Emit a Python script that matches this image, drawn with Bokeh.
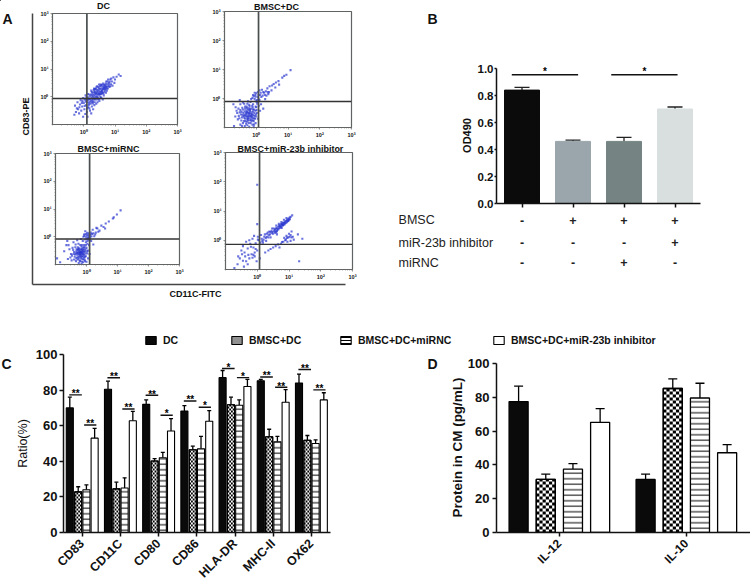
from bokeh.plotting import figure
from bokeh.embed import file_html
from bokeh.resources import INLINE
from bokeh.layouts import column
from bokeh.models import Range1d, Span, Whisker, ColumnDataSource, FixedTicker, Legend, LegendItem, CanvasTexture
from bokeh.core.properties import value
import math

FONT = "Liberation Sans"

# Panel A: hand-read scatter clouds as (log10 x, log10 y)
dc_points = [(0.45,0.15),(0.5,0.2),(0.4,0.1),(0.55,0.3),(0.6,0.25),(0.35,0.05),(0.3,0.0),(0.65,0.35),(0.7,0.4),(0.75,0.45),
(0.5,0.05),(0.42,0.24),(0.58,0.12),(0.25,-0.05),(0.2,-0.1),(0.15,-0.02),(0.28,0.12),(0.36,0.2),(0.62,0.48),(0.68,0.3),
(0.8,0.5),(0.72,0.55),(0.85,0.62),(0.9,0.55),(0.95,0.7),(1.05,0.72),(1.12,0.8),(0.78,0.62),(0.66,0.18),(0.52,0.38),
(0.46,-0.03),(0.38,-0.1),(0.3,-0.18),(0.22,-0.25),(0.12,-0.2),(0.05,-0.12),(0.08,-0.3),(0.0,-0.22),(-0.05,-0.35),(-0.12,-0.28),
(-0.18,-0.45),(-0.25,-0.55),(-0.3,-0.65),(-0.08,-0.5),(0.02,-0.45),(0.1,-0.55),(0.18,-0.42),(0.26,-0.35),(0.34,-0.3),(0.44,-0.2),
(0.56,-0.05),(0.64,0.05),(0.74,0.22),(0.82,0.35),(0.98,0.5),(0.24,0.22),(0.14,0.1),(0.06,0.05),(-0.02,-0.05),(-0.1,-0.12),
(-0.2,-0.2),(-0.28,-0.32),(0.48,0.32),(0.54,0.44),(0.6,0.36),(0.33,0.3),(0.41,0.02),(0.47,0.1),(0.53,0.16),(0.59,0.2),
(0.37,-0.02),(0.31,0.07),(0.27,0.04),(0.21,0.02),(0.17,-0.08),(0.11,-0.1),(0.63,0.28),(0.69,0.37),(0.57,0.22),(0.51,0.28),
(0.43,0.18),(0.39,0.14),(0.33,0.16),(0.71,0.15),(0.77,0.3),(0.87,0.45),(0.92,0.4),(0.61,-0.1),(0.5,-0.15),(0.4,-0.25),
(0.2,-0.5),(0.3,-0.45),(0.14,-0.38),(0.05,-0.62),(0.12,-0.72),(-0.02,-0.72),(-0.15,-0.6),(0.24,-0.6),(1.0,0.62),(1.18,0.75),
(0.67,0.43),(0.74,0.36),(0.81,0.44),(0.55,0.09),(0.49,-0.08),(0.35,-0.2),(0.16,-0.3),(0.07,-0.18),(-0.04,-0.15),(0.28,-0.12),
(0.44,0.07),(0.38,0.28),(0.46,0.36),(0.56,0.4),(0.64,0.42),(0.7,0.48),(0.76,0.55),(0.83,0.54),(0.88,0.66),(0.6,0.14),
(0.54,-0.01),(0.44,-0.1),(0.34,-0.1),(0.29,-0.24),(0.19,-0.18),(0.13,-0.12),(0.09,-0.02),(0.23,0.08),(0.32,0.24),(0.4,0.33),
(0.5,0.12),(0.56,0.18),(0.63,0.12),(0.68,0.24),(0.73,0.29),(0.79,0.39),(0.85,0.38),(0.47,0.24),(0.36,0.12),(0.26,0.17),
(0.18,0.07),(0.03,-0.07),(-0.06,-0.22),(-0.14,-0.38),(-0.22,-0.42),(0.03,-0.33),(0.17,-0.24),(0.25,-0.2),(0.32,-0.06),(0.42,-0.02),
(0.52,0.1),(0.61,0.3),(0.66,0.31),(0.72,0.33),(0.58,0.43),(0.49,0.44),(0.42,0.38),(0.35,0.28),(0.24,-0.14),(0.11,-0.42)]

bmsc_dc_points = [(-0.25,-0.6),(-0.2,-0.5),(-0.3,-0.55),(-0.15,-0.65),(-0.35,-0.7),(-0.1,-0.45),(-0.25,-0.4),(-0.4,-0.5),(-0.2,-0.75),(-0.05,-0.6),
(-0.3,-0.8),(-0.45,-0.65),(-0.15,-0.35),(-0.35,-0.35),(-0.08,-0.78),(-0.5,-0.4),(-0.55,-0.6),(-0.12,-0.9),(-0.28,-0.92),(-0.42,-0.85),
(-0.6,-0.5),(-0.65,-0.3),(-0.5,-0.2),(-0.38,-0.18),(-0.22,-0.22),(-0.1,-0.2),(0.0,-0.3),(0.02,-0.5),(0.05,-0.7),(-0.02,-0.85),
(0.0,-0.1),(0.05,0.05),(-0.05,-0.02),(0.1,-0.05),(0.12,0.12),(-0.08,0.08),(0.0,0.18),(0.05,0.22),(0.2,0.1),(0.25,0.2),
(0.3,0.25),(0.18,0.3),(0.35,0.35),(0.42,0.42),(0.5,0.45),(0.55,0.5),(0.62,0.55),(0.7,0.6),(0.82,0.72),(0.88,0.78),
(0.95,0.82),(1.08,0.98),(0.28,-0.02),(0.15,-0.2),(0.22,-0.35),(0.08,-0.25),(-0.18,-0.12),(-0.3,-0.28),(-0.44,-0.32),(-0.58,-0.72),
(-0.7,-0.95),(-0.62,-0.42),(-0.72,-0.2),(-0.22,-0.68),(-0.17,-0.58),(-0.27,-0.48),(-0.33,-0.62),(-0.12,-0.55),(-0.07,-0.38),(-0.37,-0.44),
(-0.24,-0.34),(-0.14,-0.48),(-0.19,-0.41),(-0.31,-0.42),(-0.4,-0.6),(-0.48,-0.55),(-0.1,-0.68),(-0.03,-0.42),(0.03,-0.18),(-0.28,-0.7),
(-0.18,-0.85),(-0.36,-0.95),(-0.5,-0.9),(0.0,-0.62),(0.12,-0.42),(0.38,0.15),(0.48,0.28),(0.6,0.38),(0.1,0.28),(-0.02,0.06),
(-0.12,0.02),(0.02,-0.05),(0.07,0.12),(-0.05,0.2),(-0.16,-0.02),(-0.26,-0.1),(-0.52,-0.05),(-0.66,-0.62),(-0.22,-0.98),(-0.08,-0.98),
(0.16,0.05),(0.22,0.22),(0.32,0.1),(0.72,0.48),(0.4,0.22),(-0.04,-0.7),(-0.34,-0.78),(-0.46,-0.46),(-0.21,-0.27),(-0.11,-0.3),
(-0.29,-0.62),(-0.23,-0.54),(-0.32,-0.5),(-0.16,-0.72),(-0.26,-0.76),(-0.38,-0.66),(-0.43,-0.56),(-0.13,-0.62),(-0.06,-0.5),(-0.09,-0.58),
(-0.2,-0.44),(-0.29,-0.34),(-0.35,-0.28),(-0.42,-0.38),(-0.52,-0.48),(-0.47,-0.76),(-0.39,-0.78),(-0.32,-0.87),(-0.24,-0.84),(-0.15,-0.78),
(-0.06,-0.68),(0.01,-0.4),(-0.02,-0.28),(-0.13,-0.25),(-0.2,-0.36),(-0.28,-0.18),(-0.42,-0.14),(-0.56,-0.35),(-0.53,-0.68),(-0.26,-0.66),
(-0.18,-0.62),(-0.34,-0.56),(-0.24,-0.5),(-0.15,-0.54),(-0.1,-0.38),(-0.3,-0.47),(-0.37,-0.58),(-0.21,-0.6),(-0.27,-0.72),(-0.11,-0.75),
(0.03,-0.12),(-0.03,0.12),(0.07,-0.02),(-0.1,0.12),(0.14,0.2),(0.27,0.12),(0.36,0.22),(-0.01,-0.55),(-0.07,-0.9),(-0.45,-0.95)]

bmsc_mirnc_points = [(-0.2,-0.58),(-0.15,-0.5),(-0.25,-0.5),(-0.1,-0.62),(-0.3,-0.65),(-0.12,-0.42),(-0.22,-0.7),(-0.05,-0.52),(-0.32,-0.45),(-0.4,-0.55),
(-0.18,-0.78),(-0.28,-0.82),(-0.08,-0.75),(-0.38,-0.72),(-0.15,-0.9),(-0.05,-0.88),(-0.25,-0.95),(-0.45,-0.4),(-0.35,-0.28),(-0.2,-0.3),
(-0.08,-0.3),(0.0,-0.4),(0.02,-0.6),(0.05,-0.78),(-0.5,-0.62),(-0.55,-0.45),(-0.6,-0.8),(-0.48,-0.85),(-0.65,-0.3),(-0.72,-0.52),
(-0.85,-0.92),(-0.95,-0.78),(-0.62,-0.15),(-0.42,-0.2),(-0.3,-0.12),(-0.12,-0.15),(-0.02,-0.2),(0.05,-0.05),(0.0,0.05),(-0.08,0.08),
(0.08,0.12),(-0.04,0.2),(0.12,-0.02),(0.18,0.1),(0.25,0.02),(0.3,0.15),(0.2,0.25),(0.35,0.3),(0.42,0.22),(0.48,0.4),
(0.55,0.35),(0.62,0.48),(0.72,0.55),(0.85,0.66),(0.88,0.7),(0.98,0.8),(1.1,0.95),(0.15,-0.15),(0.22,-0.28),(0.08,-0.3),
(-0.17,-0.54),(-0.13,-0.6),(-0.23,-0.6),(-0.27,-0.56),(-0.07,-0.45),(-0.18,-0.46),(-0.12,-0.7),(-0.2,-0.65),(-0.28,-0.38),(-0.35,-0.6),
(-0.1,-0.82),(-0.02,-0.7),(-0.16,-0.36),(-0.24,-0.42),(-0.04,-0.6),(-0.3,-0.75),(-0.42,-0.62),(-0.22,-0.86),(-0.14,-0.72),(-0.06,-0.38),
(0.02,-0.08),(0.06,0.02),(-0.01,-0.02),(0.1,0.06),(-0.1,0.0),(-0.18,-0.08),(0.14,0.15),(0.28,0.08),(0.38,0.18),(0.02,0.14),
(-0.34,-0.88),(-0.52,-0.75),(-0.26,-0.25),(0.0,-0.9),(0.6,0.3),(0.05,-0.5),(0.1,-0.62),(-0.16,-0.98),(-0.58,-0.3),(0.32,0.32),
(-0.19,-0.62),(-0.14,-0.56),(-0.24,-0.64),(-0.09,-0.55),(-0.16,-0.44),(-0.21,-0.52),(-0.11,-0.48),(-0.26,-0.72),(-0.17,-0.68),(-0.07,-0.66),
(-0.03,-0.46),(-0.13,-0.8),(-0.2,-0.88),(-0.28,-0.6),(-0.33,-0.52),(-0.37,-0.64),(-0.23,-0.46),(-0.29,-0.48),(-0.15,-0.3),(-0.09,-0.38),
(-0.02,-0.3),(0.03,-0.25),(-0.06,-0.82),(-0.11,-0.92),(-0.19,-0.72),(-0.31,-0.58),(-0.43,-0.48),(-0.47,-0.68),(-0.4,-0.82),(-0.33,-0.78),
(-0.25,-0.78),(-0.18,-0.55),(-0.12,-0.64),(-0.22,-0.56),(-0.16,-0.6),(-0.1,-0.52),(-0.05,-0.72),(0.01,-0.52),(-0.27,-0.44),(-0.36,-0.38),
(0.04,0.07),(-0.03,0.1),(0.08,-0.04),(0.12,0.08),(-0.07,0.03),(0.16,0.02),(0.22,0.12),(0.03,-0.15),(0.09,-0.12),(-0.04,-0.1)]

bmsc_inhibitor_points = [(0.1,-0.08),(0.2,0.02),(0.3,0.12),(0.4,0.2),(0.48,0.28),(0.55,0.35),(0.6,0.42),(0.66,0.46),(0.72,0.5),(0.78,0.56),
(0.84,0.6),(0.9,0.66),(0.96,0.72),(1.02,0.78),(1.1,0.85),(0.5,0.22),(0.58,0.3),(0.64,0.36),(0.7,0.42),(0.76,0.48),
(0.82,0.52),(0.88,0.58),(0.94,0.62),(1.0,0.7),(0.45,0.32),(0.52,0.4),(0.6,0.5),(0.68,0.56),(0.76,0.62),(0.84,0.7),
(0.92,0.76),(0.35,0.1),(0.42,0.1),(0.28,-0.02),(0.22,0.12),(0.14,0.05),(0.05,0.0),(-0.05,-0.1),(-0.15,0.05),(-0.25,0.0),
(-0.35,-0.05),(-0.1,0.15),(0.02,0.12),(-0.45,-0.2),(-0.3,-0.28),(-0.2,-0.22),(-0.12,-0.25),(-0.05,-0.3),(0.0,-0.35),(-0.08,-0.42),
(-0.18,-0.48),(-0.28,-0.5),(-0.38,-0.55),(-0.48,-0.48),(-0.55,-0.62),(-0.45,-0.7),(-0.35,-0.72),(-0.25,-0.62),(-0.15,-0.6),(-0.3,-0.82),
(-0.42,-0.9),(-0.62,-0.82),(-0.72,-0.95),(-0.5,-0.35),(0.08,-0.62),(-0.02,-0.72),(0.02,0.02),(0.42,-0.3),(0.5,-0.25),(0.58,-0.2),
(0.66,-0.14),(0.75,-0.12),(0.82,-0.05),(0.9,0.02),(0.98,0.1),(1.05,0.18),(1.12,0.12),(0.92,0.15),(0.85,0.08),(0.95,-0.05),
(1.05,-0.02),(1.15,0.02),(1.28,0.2),(1.0,0.22),(0.7,-0.25),(0.35,-0.35),(0.25,-0.42),(1.42,0.05),(0.62,0.2),(0.38,0.3),
(0.3,0.22),(0.18,-0.08),(0.56,0.26),(0.62,0.32),(0.74,0.44),(0.8,0.5),(0.86,0.54),(0.98,0.66),(0.0,1.9),(0.0,0.55),
(1.32,-0.72),(1.08,0.3),(-0.22,-0.12),(-0.08,-0.55),(-0.4,-0.42),(0.24,0.2),(0.33,0.26),(0.47,0.4),(0.12,0.18),(-0.6,-0.55),
(0.71,0.47),(0.79,0.52),(0.83,0.56),(0.87,0.63),(0.93,0.69),(0.99,0.74),(1.05,0.8),(0.69,0.5),(0.75,0.55),(0.81,0.6),
(0.63,0.4),(0.57,0.38),(0.53,0.31),(0.46,0.24),(0.41,0.28),(0.36,0.18),(0.27,0.08),(0.16,-0.02),(0.9,0.6),(0.96,0.66),
(1.03,0.72),(0.77,0.42),(0.67,0.38),(0.6,0.27),(1.08,0.1),(1.02,0.12),(0.94,0.08),(0.88,0.0),(0.78,-0.06),(-0.12,-0.5)]

# Panel B
b_values = [0.84, 0.46, 0.46, 0.70]
b_upper = [0.86, 0.47, 0.49, 0.715]
b_colors = ["#0b0b0b", "#9aa6ac", "#758482", "#d8dfde"]
b_rows = ["BMSC", "miR-23b inhibitor", "miRNC"]
b_signs = [["-", "+", "+", "+"], ["-", "-", "-", "+"], ["-", "-", "+", "-"]]

# Panel C
c_markers = ["CD83", "CD11C", "CD80", "CD86", "HLA-DR", "MHC-II", "OX62"]
c_dc = [70, 80.5, 72, 68.3, 87, 85.2, 84]
c_dc_err = [76, 85, 74.5, 71.3, 91, 86, 89]
c_bmsc = [22.8, 24.5, 40.2, 46.5, 71.8, 53.8, 51.8]
c_bmsc_err = [25.7, 28.3, 41.5, 48.5, 76, 58, 54.5]
c_mirnc = [24, 25, 42, 47, 71.5, 51, 50]
c_mirnc_err = [26.7, 30.7, 45, 54, 74.5, 54, 52]
c_inh = [53, 62.8, 57, 62.5, 82, 73.2, 74.5]
c_inh_err = [58.5, 68, 64, 68.5, 86, 80.3, 78.5]
c_sig1_y = [77.3, 86.9, 77.1, 73.9, 92.1, 87.4, 91.6]
c_sig1 = ["**", "**", "**", "**", "*", "**", "**"]
c_sig2_y = [60.4, 69.4, 65.9, 70.4, 87, 81.6, 80.1]
c_sig2 = ["**", "**", "*", "*", "*", "**", "**"]

# Panel D
d_cytokines = ["IL-12", "IL-10"]
d_dc = [77.5, 31.4]
d_dc_err = [86.6, 34.6]
d_bmsc = [31.4, 85.2]
d_bmsc_err = [34.6, 90.9]
d_mirnc = [37.5, 79.6]
d_mirnc_err = [40.7, 88.3]
d_inh = [65.2, 47.2]
d_inh_err = [73.3, 52]

SERIES = ["DC", "BMSC+DC", "BMSC+DC+miRNC", "BMSC+DC+miR-23b inhibitor"]

CHECK = CanvasTexture(repetition="repeat", code="""
    const h = scale / 2;
    ctx.fillStyle = color;
    ctx.fillRect(0, 0, h, h);
    ctx.fillRect(h, h, h, h);
""")


def legend_styles():
    return [dict(fill_color="#0a0a0a"),
            dict(fill_color="white", hatch_pattern=value("chk"), hatch_extra={"chk": CHECK}, hatch_color="black", hatch_scale=4),
            dict(fill_color="white", hatch_pattern="horizontal_line", hatch_color="black", hatch_scale=3, hatch_weight=1),
            dict(fill_color="white")]


def bar_styles(line_scale):
    return [dict(fill_color="#0a0a0a"),
            dict(fill_color="white"),
            dict(fill_color="white", hatch_pattern="horizontal_line", hatch_color="black", hatch_scale=line_scale, hatch_weight=1),
            dict(fill_color="white")]


def frame(left, top, fw, fh, x_range, y_range, ml=70, mr=14, mt=20, mb=90, **kw):
    p = figure(width=fw + ml + mr, height=fh + mt + mb, x_range=x_range, y_range=y_range,
               min_border_left=ml, min_border_right=mr, min_border_top=mt, min_border_bottom=mb,
               output_backend="svg", toolbar_location=None, background_fill_alpha=0, border_fill_alpha=0,
               frame_align=False,
               styles={"position": "absolute", "left": f"{left-ml}px", "top": f"{top-mt}px"}, **kw)
    p.grid.visible = False
    p.outline_line_color = None
    return p


def style_axis(ax, size, lw=1.5, tick=4, standoff=2):
    ax.major_label_text_font = FONT
    ax.major_label_text_font_style = "bold"
    ax.major_label_text_font_size = size
    ax.major_label_text_color = "#111111"
    ax.axis_line_color = "#111111"
    ax.major_tick_line_color = "#111111"
    ax.axis_line_width = lw
    ax.major_tick_line_width = lw
    ax.major_tick_in = 0
    ax.major_tick_out = tick
    ax.minor_tick_line_color = None
    ax.major_label_standoff = standoff


DECADES = {1: "10\u2070", 10: "10\u00b9", 100: "10\u00b2", 1000: "10\u00b3"}
DECADE_TICKS = [1, 10, 100, 1000]
MINOR_TICKS = [0.1, 0.2, 0.3, 0.4, 0.5, 0.6, 0.7, 0.8, 0.9, 2, 3, 4, 5, 6, 7, 8, 9,
               20, 30, 40, 50, 60, 70, 80, 90, 200, 300, 400, 500, 600, 700, 800, 900]


def flow(left, top, fw, fh, pts, vx, vy):
    p = frame(left, top, fw, fh, Range1d(0.1, 1000), Range1d(0.1, 1000), ml=50, mr=10, mt=8, mb=40,
              x_axis_type="log", y_axis_type="log")
    p.outline_line_color = "#5f6363"
    p.outline_line_width = 1.2
    xs = [10 ** a for a, _ in pts]
    ys = [10 ** b for _, b in pts]
    p.scatter(xs, ys, marker="square", size=2.1, fill_color="#2a36cf", fill_alpha=0.7, line_color=None)
    p.add_layout(Span(location=vx, dimension="height", line_color="#4a4e4e", line_width=1.7))
    p.add_layout(Span(location=vy, dimension="width", line_color="#333333", line_width=1.4))
    for ax in (p.xaxis[0], p.yaxis[0]):
        style_axis(ax, "5.5px", lw=0.7, tick=2)
        ax.axis_line_color = "#666666"
        ax.major_tick_line_color = "#666666"
        ax.minor_tick_line_color = "#666666"
        ax.minor_tick_line_width = 0.5
        ax.minor_tick_out = 1
        ax.minor_tick_in = 0
        ax.ticker = FixedTicker(ticks=DECADE_TICKS, minor_ticks=MINOR_TICKS)
        ax.major_label_overrides = DECADES
    return p


def checker(p, xs, vals, width, cell_px, ppx, ppy):
    # Black cells of a checkerboard fill, sized from each bar's own height
    ncol = max(2, round(width * ppx / cell_px))
    dx = width / ncol
    dy = cell_px / ppy
    L, R, B, T = [], [], [], []
    for x, v in zip(xs, vals):
        for j in range(math.ceil(v / dy)):
            for i in range(ncol):
                if (i + j) % 2 == 0:
                    L.append(x - width / 2 + i * dx)
                    R.append(x - width / 2 + (i + 1) * dx)
                    B.append(j * dy)
                    T.append(min(v, (j + 1) * dy))
    p.quad(left=L, right=R, bottom=B, top=T, fill_color="black", line_color=None)


def bars(p, xs, vals, errs, width, style, lw, head, check=None):
    src = ColumnDataSource(dict(x=xs, top=vals, err=errs))
    r = p.vbar(x="x", top="top", bottom=0, width=width, source=src, line_color="black", line_width=lw, **style)
    if check:
        checker(p, xs, vals, width, *check)
        p.vbar(x="x", top="top", bottom=0, width=width, source=src, fill_color=None, line_color="black", line_width=lw)
    w = Whisker(source=src, base="x", lower="top", upper="err", line_color="black", line_width=1.3,
                lower_head=None)
    w.upper_head.size = head
    w.upper_head.line_width = 1.3
    w.upper_head.line_color = "black"
    p.add_layout(w)
    return r


# Background sheet: page-pixel coordinates for captions only
bg = figure(width=750, height=583, x_range=Range1d(0, 750), y_range=Range1d(583, 0),
            min_border_left=0, min_border_right=0, min_border_top=0, min_border_bottom=0,
            x_axis_location=None, y_axis_location=None, frame_align=False,
            output_backend="svg", toolbar_location=None, outline_line_color=None,
            styles={"position": "absolute", "left": "0px", "top": "0px"})
bg.grid.visible = False


def caption(x, y, t, size, style="bold", angle=0, align="center"):
    bg.text([x], [y], text=[t], text_font=value(FONT), text_font_size=size, text_font_style=style,
            text_align=align, text_baseline="middle", angle=angle, text_color="#111111")


for x, y, t in [(2, 18, "A"), (427, 18, "B"), (1, 363, "C"), (427, 363, "D")]:
    caption(x, y, t, "14px", align="left")
caption(103, 5, "DC", "9px")
caption(276, 6, "BMSC+DC", "9px")
caption(108, 148, "BMSC+miRNC", "9px")
caption(290, 148, "BMSC+miR-23b inhibitor", "9px")
caption(25, 116, "CD83-PE", "9px", angle=math.pi / 2)
caption(195, 293, "CD11C-FITC", "9px")

for name, style, lx in zip(SERIES, legend_styles(), [144, 230, 339, 492]):
    r = bg.vbar(x=[-50], top=[-50], bottom=-60, width=1, line_color="black", line_width=1.1, **style)
    leg = Legend(items=[LegendItem(label=value(name), renderers=[r])], location=(lx, 237),
                 orientation="horizontal", margin=0, padding=0, glyph_width=13, glyph_height=10, label_standoff=6,
                 background_fill_alpha=0, border_line_color=None, label_text_font=FONT,
                 label_text_font_style="bold", label_text_font_size="10.5px", label_height=10,
                 label_text_color="#111111")
    bg.add_layout(leg, "center")

# Panel A frame with the shared L-shaped axes
ax_a = frame(32, 13, 313, 271, Range1d(0, 1), Range1d(0, 1), ml=20, mr=6, mt=6, mb=20)
for ax in (ax_a.xaxis[0], ax_a.yaxis[0]):
    ax.ticker = FixedTicker(ticks=[])
    ax.axis_line_color = "#444444"
    ax.axis_line_width = 1.5
    ax.major_tick_line_color = None
    ax.minor_tick_line_color = None

a1 = flow(52, 13, 125, 111, dc_points, 1.26, 0.87)
a2 = flow(224, 11, 127, 116, bmsc_dc_points, 1.18, 0.79)
a3 = flow(55, 153, 124, 111, bmsc_mirnc_points, 1.26, 0.83)
a4 = flow(225, 152, 127, 117, bmsc_inhibitor_points, 1.18, 0.72)

# Panel B: frame extends past the axes to hold the treatment table
PX_B = 51.0
pb = frame(390, 60, 315, 215, Range1d(0.5 - 106 / PX_B, 4.5 + 5 / PX_B), Range1d(-72 / 135, 1 + 8 / 135),
           ml=70, mr=10, mt=10, mb=50)
bx = [1, 2, 3, 4]
src_b = ColumnDataSource(dict(x=bx, top=b_values, err=b_upper, color=b_colors))
pb.vbar(x="x", top="top", bottom=0, width=35 / PX_B, color="color", source=src_b)
wb = Whisker(source=src_b, base="x", lower="top", upper="err", line_color="#222222", line_width=1.3, lower_head=None)
wb.upper_head.size = 15
wb.upper_head.line_width = 1.3
wb.upper_head.line_color = "#222222"
pb.add_layout(wb)
pb.segment(x0=[0.8, 2.75], y0=[0.953, 0.953], x1=[2.1, 4.05], y1=[0.953, 0.953], line_color="#111111", line_width=1.5)
pb.text(x=[1.45, 3.4], y=[0.975, 0.975], text=["*", "*"], text_font=value(FONT), text_font_size="10px",
        text_font_style="bold", text_align="center", text_baseline="middle")
pb.xaxis.fixed_location = 0
pb.yaxis.fixed_location = 0.5
pb.xaxis.bounds = (0.5, 4.5)
pb.yaxis.bounds = (0, 1)
pb.yaxis.ticker = FixedTicker(ticks=[0, 0.2, 0.4, 0.6, 0.8, 1.0])
pb.yaxis.major_label_overrides = {0: "0.0", 0.2: "0.2", 0.4: "0.4", 0.6: "0.6", 0.8: "0.8", 1: "1.0"}
for ax in (pb.xaxis[0], pb.yaxis[0]):
    style_axis(ax, "11.5px", tick=2, standoff=1)
pb.xaxis[0].ticker = FixedTicker(ticks=[], minor_ticks=bx)
pb.xaxis[0].minor_tick_line_color = "#111111"
pb.xaxis[0].minor_tick_line_width = 1.5
pb.xaxis[0].minor_tick_in = 0
pb.xaxis[0].minor_tick_out = 4
row_y = [-0.125, -0.29, -0.44]
for rname, ry, signs in zip(b_rows, row_y, b_signs):
    pb.text(x=[-1.42], y=[ry], text=[rname], text_font=value(FONT), text_font_size="12.5px",
            text_baseline="middle", text_color="#222222")
    pb.text(x=bx, y=[ry] * 4, text=signs, text_font=value(FONT), text_font_size="12.5px", text_font_style="bold",
            text_align="center", text_baseline="middle", text_color="#222222")
caption(466, 135, "OD490", "11px", angle=math.pi / 2)

# Panel C
pc = frame(63, 354, 267, 178, Range1d(-0.49, 6.5), Range1d(0, 100))
offs = [-0.325, -0.105, 0.11, 0.325]
checks_c = [None, (2, 38.2, 1.78), None, None]
for off, vals, errs, style, chk in zip(offs, [c_dc, c_bmsc, c_mirnc, c_inh], [c_dc_err, c_bmsc_err, c_mirnc_err, c_inh_err], bar_styles(5.5), checks_c):
    bars(pc, [i + off for i in range(7)], vals, errs, 0.185, style, 1.1, 4, check=chk)
gi = list(range(7))
pc.segment(x0=[i - 0.34 for i in gi], y0=c_sig1_y, x1=[i - 0.01 for i in gi], y1=c_sig1_y, line_color="#111111", line_width=1.4)
pc.segment(x0=[i + 0.05 for i in gi], y0=c_sig2_y, x1=[i + 0.37 for i in gi], y1=c_sig2_y, line_color="#111111", line_width=1.4)
pc.text(x=[i - 0.17 for i in gi], y=[v + 0.7 for v in c_sig1_y], text=c_sig1, text_font=value(FONT), text_font_size="10px",
        text_font_style="bold", text_align="center", text_baseline="middle")
pc.text(x=[i + 0.21 for i in gi], y=[v + 0.7 for v in c_sig2_y], text=c_sig2, text_font=value(FONT), text_font_size="10px",
        text_font_style="bold", text_align="center", text_baseline="middle")
pc.xaxis.ticker = FixedTicker(ticks=gi)
pc.xaxis.major_label_overrides = dict(enumerate(c_markers))
pc.xaxis.major_label_orientation = math.pi / 4
pc.yaxis.ticker = FixedTicker(ticks=[0, 20, 40, 60, 80, 100])
for ax in (pc.xaxis[0], pc.yaxis[0]):
    style_axis(ax, "13px")
pc.xaxis[0].major_label_text_font_size = "12.5px"
pc.xaxis[0].major_label_standoff = 5
caption(22, 443, "Ratio(%)", "12.5px", style="normal", angle=math.pi / 2)

# Panel D
pd_ = frame(496, 363, 254, 169, Range1d(-0.495, 1.505), Range1d(0, 100), mr=0)
offs_d = [-0.321, -0.107, 0.107, 0.321]
checks_d = [None, (3, 127, 1.69), None, None]
for off, vals, errs, style, chk in zip(offs_d, [d_dc, d_bmsc, d_mirnc, d_inh], [d_dc_err, d_bmsc_err, d_mirnc_err, d_inh_err], bar_styles(5.5), checks_d):
    bars(pd_, [i + off for i in range(2)], vals, errs, 0.15, style, 1.3, 9, check=chk)
pd_.xaxis.ticker = FixedTicker(ticks=[0, 1])
pd_.xaxis.major_label_overrides = dict(enumerate(d_cytokines))
pd_.xaxis.major_label_orientation = math.pi / 4
pd_.yaxis.ticker = FixedTicker(ticks=[0, 20, 40, 60, 80, 100])
for ax in (pd_.xaxis[0], pd_.yaxis[0]):
    style_axis(ax, "13px", standoff=3)
pd_.xaxis[0].major_label_text_font_size = "12px"
pd_.xaxis[0].major_label_standoff = 5
caption(457, 447, "Protein in CM (pg/mL)", "13.5px", angle=math.pi / 2)

root = column(bg, ax_a, a1, a2, a3, a4, pb, pc, pd_, width=750, height=583,
              styles={"position": "absolute", "left": "0px", "top": "0px"})
open("out.html", "w").write(file_html(root, INLINE))
